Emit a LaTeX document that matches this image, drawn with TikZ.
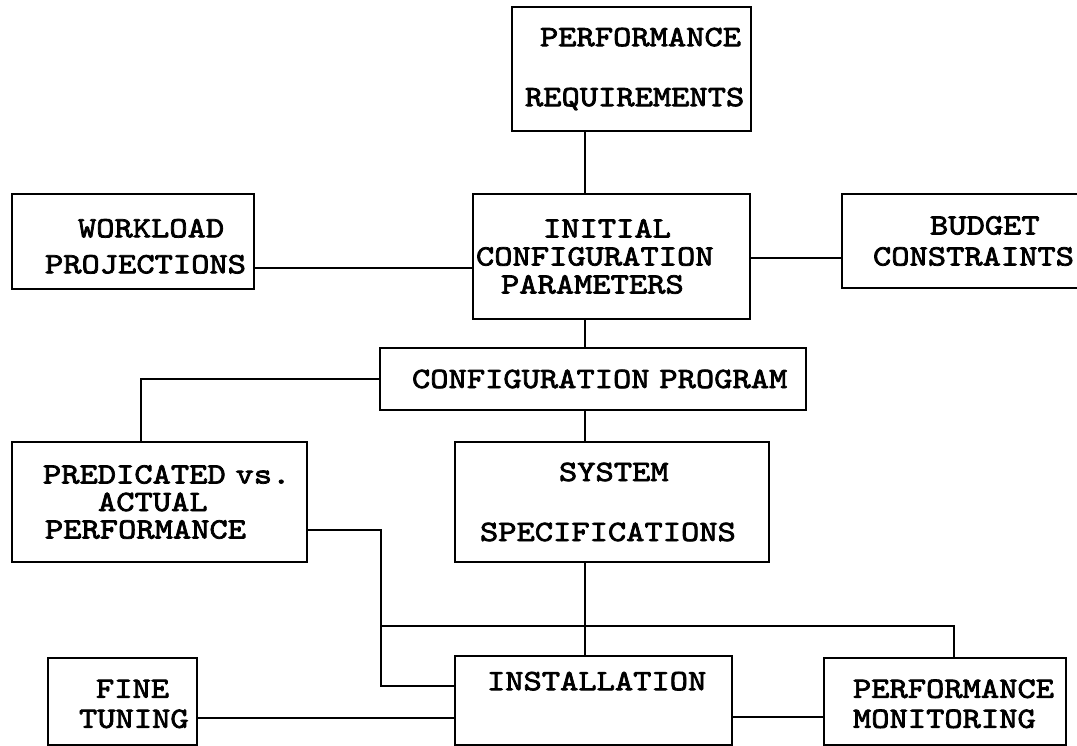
\documentclass[tikz,border=0pt]{standalone}
\usepackage{fontspec}
\usepackage{tikz}
\newfontfamily\typewriter[Extension=.otf, FakeStretch=1.18, FakeBold=2.5]{lmmono10-regular}
\hyphenpenalty=10000

\begin{document}
\begin{tikzpicture}[x=1pt, y=-1pt, line width=2.4pt,
    box/.style={draw, inner xsep=0pt, inner ysep=0pt, align=left,
        font=\typewriter\fontsize{29.5}{30}\selectfont}]
    \useasboundingbox (0,0) rectangle (1077,746);
    \clip (0,0) rectangle (1077,746);
    \node[box, text width=239pt, minimum height=124pt] (req) at (631.5,69)
        {\hspace*{28pt}PERFORMANCE\\[30pt]\hspace*{13pt}REQUIREMENTS};
    \node[box, text width=242pt, minimum height=95pt] (work) at (133,241.5)
        {\hspace*{66pt}WORKLOAD\rule{0pt}{28pt}\\[6pt]\hspace*{33pt}PROJECTIONS};
    \node[box, text width=277pt, minimum height=125pt] (init) at (611.5,256.5)
        {\hspace*{70pt}INITIAL\\[-2pt]\hspace*{3pt}CONFIGURATION\\[-2pt]\hspace*{28pt}PARAMETERS};
    \node[box, text width=268pt, minimum height=94pt] (budget) at (976,241)
        {\hspace*{88pt}BUDGET\\[1pt]\hspace*{31pt}CONSTRAINTS};
    \node[box, text width=426pt, minimum height=62pt] (prog) at (593,379)
        {\hspace*{32pt}CONFIGURATION PROGRAM};
    \node[box, text width=295pt, minimum height=120pt] (pred) at (159.5,502)
        {\hspace*{31pt}PREDICATED vs.\\[-2.5pt]\hspace*{86pt}ACTUAL\\[-2.5pt]\hspace*{33pt}PERFORMANCE};
    \node[box, text width=314pt, minimum height=120pt] (spec) at (612,502)
        {\hspace*{104pt}SYSTEM\\[30pt]\hspace*{25pt}SPECIFICATIONS};
    \node[box, text width=149pt, minimum height=87pt] (fine) at (122.5,701.5)
        {\hspace*{48pt}FINE\rule{0pt}{23pt}\\\hspace*{31pt}TUNING};
    \node[box, text width=277pt, minimum height=89pt] (inst) at (593.5,700.5)
        {\hspace*{32pt}INSTALLATION\\\strut};
    \node[box, text width=242pt, minimum height=87pt] (mon) at (945,701.5)
        {\hspace*{29pt}PERFORMANCE\rule{0pt}{23pt}\\\hspace*{29pt}MONITORING};
    \coordinate (spine) at (585,0);
    \coordinate (bend) at (381,0);
    \coordinate (bus) at (381,626);
    \draw (req.south -| spine) -- (init.north -| spine);
    \draw (init.south -| spine) -- (prog.north -| spine);
    \draw (prog.south -| spine) -- (spec.north -| spine);
    \draw (spec.south -| spine) -- (inst.north -| spine);
    \draw ([yshift=-26.5pt]work.east) -- ([yshift=-26.5pt]work.east -| init.west);
    \draw ([yshift=-1.5pt]init.east) -- ([yshift=-1.5pt]init.east -| budget.west);
    \draw (prog.west) -| ([xshift=-18.5pt]pred.north);
    \draw ([yshift=-28pt]pred.east) -| ([yshift=14.5pt]inst.west -| bend) -- ([yshift=14.5pt]inst.west);
    \draw (bus) -| ([xshift=9pt]mon.north);
    \draw ([yshift=-16.5pt]fine.east) -- ([yshift=-16.5pt]fine.east -| inst.west);
    \draw ([yshift=-16.5pt]inst.east) -- ([yshift=-16.5pt]inst.east -| mon.west);
\end{tikzpicture}
\end{document}
